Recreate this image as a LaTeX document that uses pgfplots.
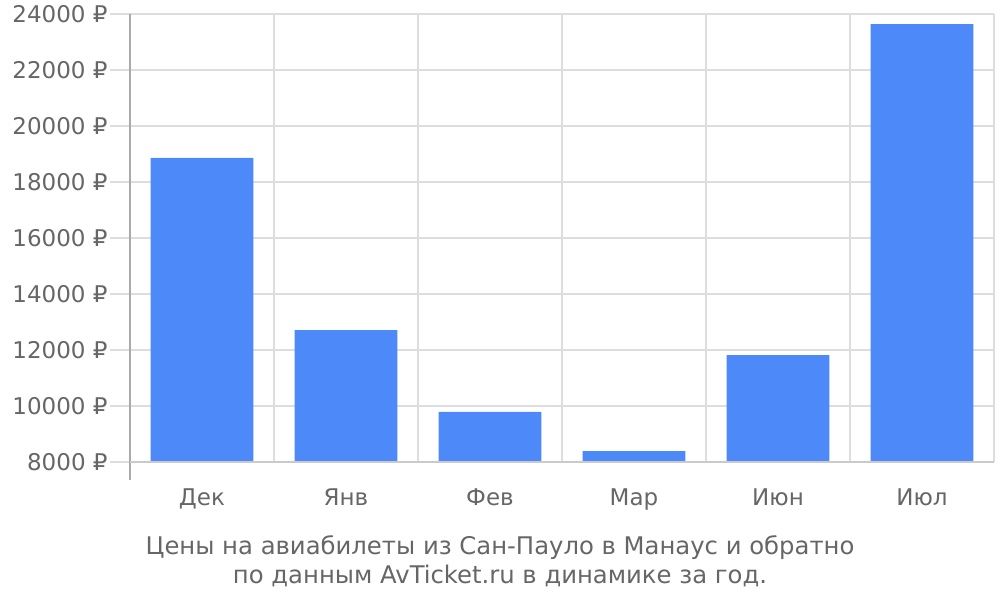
\documentclass[border=0pt]{standalone}
\usepackage{pgfplots}
\pgfplotsset{compat=1.18}
\usepackage{fontspec}
\setmainfont{DejaVu Sans}
\definecolor{barblue}{HTML}{4D89F9}
\definecolor{txtgray}{HTML}{666666}
\definecolor{gridgray}{HTML}{DDDDDD}
\definecolor{axgray}{HTML}{AAAAAA}
\begin{document}
\begin{tikzpicture}
\useasboundingbox (-65pt,-69pt) rectangle (435pt,231pt);
\begin{axis}[
  at={(0,0)}, anchor=south west,
  scale only axis, width=432pt, height=224pt,
  xmin=-0.5, xmax=5.5, ymin=8000, ymax=24000,
  ybar, bar width=0.715,
  scaled y ticks=false, scaled x ticks=false,
  xtick pos=bottom, ytick pos=left,
  xtick={0,1,2,3,4,5},
  xticklabels={Дек,Янв,Фев,Мар,Июн,Июл},
  x tick style={draw=none},
  major x tick style={draw=none},
  extra x ticks={-0.5,0.5,1.5,2.5,3.5,4.5,5.5},
  extra x tick labels={},
  extra x tick style={grid=major, major tick length=9pt, tick align=outside, tick style={draw=gridgray, line width=0.8pt}, major grid style={draw=gridgray, line width=0.8pt}},
  ytick={8000,10000,...,24000},
  yticklabels={8000 ₽,10000 ₽,12000 ₽,14000 ₽,16000 ₽,18000 ₽,20000 ₽,22000 ₽,24000 ₽},
  ymajorgrids, major grid style={draw=gridgray, line width=0.8pt},
  y tick style={draw=gridgray, line width=0.8pt},
  major tick length=10pt, tick align=outside,
  axis line style={draw=none},
  tick label style={font=\fontsize{11.5}{13}\selectfont, text=txtgray},
  yticklabel style={inner sep=1pt},
  xticklabel style={yshift=0pt},
  clip=true,
]
\addplot[fill=barblue, draw=none] coordinates {(0,18860) (1,12710) (2,9790) (3,8390) (4,11820) (5,23640)};
\end{axis}
\draw[axgray, line width=0.8pt] (0,-9pt) -- (0,224pt);
\draw[gridgray!80!gray, line width=0.8pt] (0,0) -- (432pt,0);
\node[align=center, text=txtgray, font=\fontsize{12.15}{14.5}\selectfont] at (185pt,-49.75pt) {Цены на авиабилеты из Сан-Пауло в Манаус и обратно\\по данным AvTicket.ru в динамике за год.};
\end{tikzpicture}
\end{document}
